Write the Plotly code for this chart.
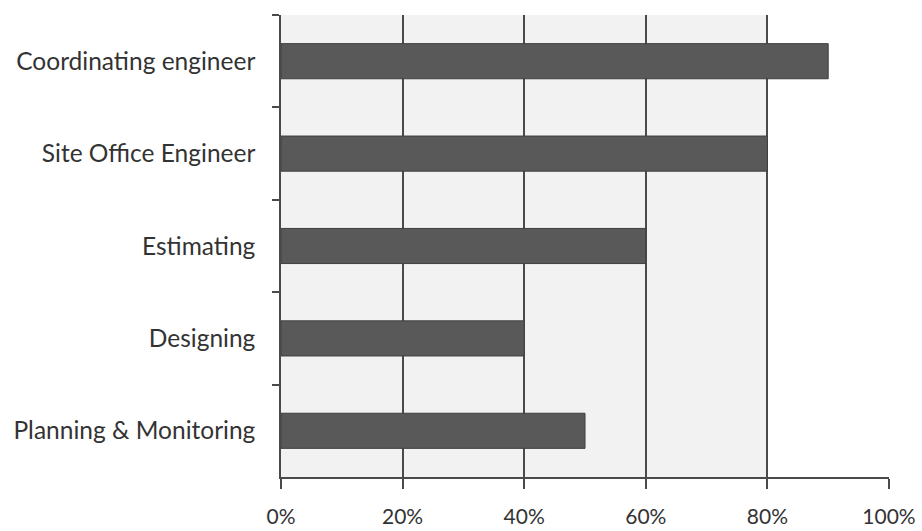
import plotly.graph_objects as go

# Share of respondents per role (top to bottom)
roles = [
    "Coordinating engineer",
    "Site Office Engineer",
    "Estimating",
    "Designing",
    "Planning & Monitoring",
]
shares = [0.90, 0.80, 0.60, 0.40, 0.50]

tick_vals = [0, 0.2, 0.4, 0.6, 0.8, 1.0]
tick_text = ["0%", "20%", "40%", "60%", "80%", "100%"]

font_family = "Lato, Calibri, 'Open Sans', sans-serif"
text_color = "#333333"
line_color = "#4a4a4a"

fig = go.Figure(
    go.Bar(
        x=shares,
        y=roles,
        orientation="h",
        marker=dict(
            color="#595959",
            line=dict(color="#3f3f3f", width=1),
        ),
        hoverinfo="x+y",
    )
)

# light grey wash behind the left part of the plot area
fig.add_vrect(x0=0, x1=0.8, fillcolor="#f2f2f2", line_width=0, layer="below")

fig.update_layout(
    width=922,
    height=531,
    margin=dict(l=281, r=33, t=15, b=54),
    paper_bgcolor="white",
    plot_bgcolor="white",
    bargap=0.62,
    showlegend=False,
    font=dict(family=font_family, size=21, color=text_color),
)

fig.update_xaxes(
    range=[0, 1.0],
    tickvals=tick_vals,
    ticktext=tick_text,
    showgrid=True,
    gridcolor=line_color,
    gridwidth=1.5,
    zeroline=False,
    showline=True,
    linecolor=line_color,
    linewidth=1.5,
    ticks="outside",
    ticklen=10,
    tickwidth=1.5,
    tickcolor=line_color,
    ticklabelstandoff=10,
    tickfont=dict(size=21),
    automargin=False,
)

fig.update_yaxes(
    autorange="reversed",
    tickson="boundaries",
    ticks="outside",
    ticklen=7,
    tickwidth=1.5,
    tickcolor=line_color,
    showline=True,
    linecolor=line_color,
    linewidth=1.5,
    showgrid=False,
    ticklabelstandoff=19,
    tickfont=dict(size=24.5),
    automargin=False,
)

fig.write_html("out.html")
